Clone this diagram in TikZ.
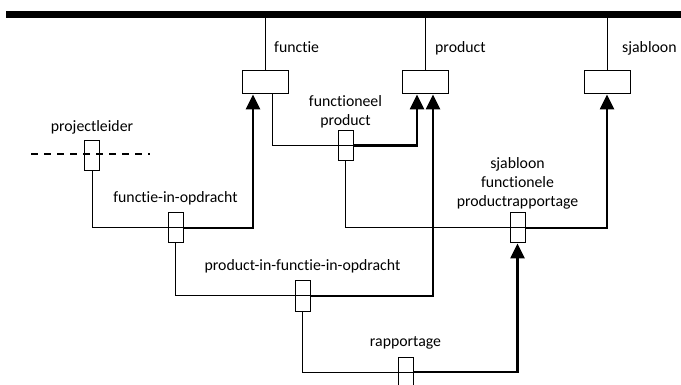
\documentclass[tikz,border=0pt]{standalone}
\usepackage{fontspec}
\setmainfont{Carlito}[Ligatures=NoCommon]
\usetikzlibrary{arrows.meta}

\begin{document}
\begin{tikzpicture}[x=1pt,y=-1pt,
    ent/.style={draw, line width=1pt, minimum width=46pt, minimum height=23pt, inner sep=0pt},
    rel/.style={draw, line width=1pt, minimum width=15pt, minimum height=30pt, inner sep=0pt},
    lbl/.style={font=\fontsize{15.8}{19}\selectfont, inner sep=0pt, align=center},
    lnk/.style={line width=1pt},
    fk/.style={line width=2.6pt, -{Triangle[length=15pt,width=14pt]}}]
    \useasboundingbox (0,0) rectangle (681,385);

    \coordinate (barw) at (6,14.5);
    \coordinate (bare) at (681,14.5);
    \draw[line width=7pt] (barw) -- (bare);

    \node[ent] (functie) at (265,82.5) {};
    \node[ent] (product) at (425,82.5) {};
    \node[ent] (sjabloon) at (607,82.5) {};
    \node[rel] (fp) at (345.5,145.5) {};
    \node[rel] (pl) at (92,155.5) {};
    \node[rel] (fio) at (175.5,228) {};
    \node[rel] (sfp) at (517.5,228) {};
    \node[rel] (pfio) at (302.5,296) {};
    \node[rel] (rap) at (405.5,372) {};

    \draw[lnk] (functie.north) -- (functie.north |- barw);
    \draw[lnk] (product.north) -- (product.north |- barw);
    \draw[lnk] (sjabloon.north) -- (sjabloon.north |- barw);

    \coordinate (plw) at (31,154);
    \coordinate (ple) at (150,154);
    \draw[line width=1.5pt, dash pattern=on 7pt off 6pt] (plw) -- (ple);

    \draw[lnk] ([xshift=7pt]functie.south) |- (fp.east);
    \draw[lnk] (fp.south) |- (sfp.east);
    \draw[lnk] (pl.south) |- (fio.east);
    \draw[lnk] (fio.south) |- (pfio.east);
    \draw[lnk] (pfio.south) |- (rap.east);

    \draw[fk] (fio.east) -| ([xshift=-12pt]functie.south);
    \draw[fk] (fp.east) -| ([xshift=-8pt]product.south);
    \draw[fk] (pfio.east) -| ([xshift=8pt]product.south);
    \draw[fk] (sfp.east) -| (sjabloon.south);
    \draw[fk] (rap.east) -| (sfp.south);

    \node[lbl, anchor=base west] (functiel) at (274,52.7) {functie};
    \node[lbl, anchor=base west] (productl) at (435,52.7) {product};
    \node[lbl, anchor=base west] (sjabloonl) at (622,52.7) {sjabloon};
    \node[lbl, anchor=south] (fpl) at ([yshift=2pt]fp.north) {functioneel\\product};
    \node[lbl, anchor=base] (pll) at ([yshift=8pt]pl.north) {projectleider};
    \node[lbl, anchor=base] (fiol) at ([yshift=10pt]fio.north) {functie-in-opdracht};
    \node[lbl, anchor=south] (sfpl) at ([yshift=3pt]sfp.north) {sjabloon\\functionele\\productrapportage};
    \node[lbl, anchor=base] (pfiol) at ([yshift=10pt]pfio.north) {product-in-functie-in-opdracht};
    \node[lbl, anchor=base] (rapl) at ([yshift=10pt]rap.north) {rapportage};
\end{tikzpicture}
\end{document}
